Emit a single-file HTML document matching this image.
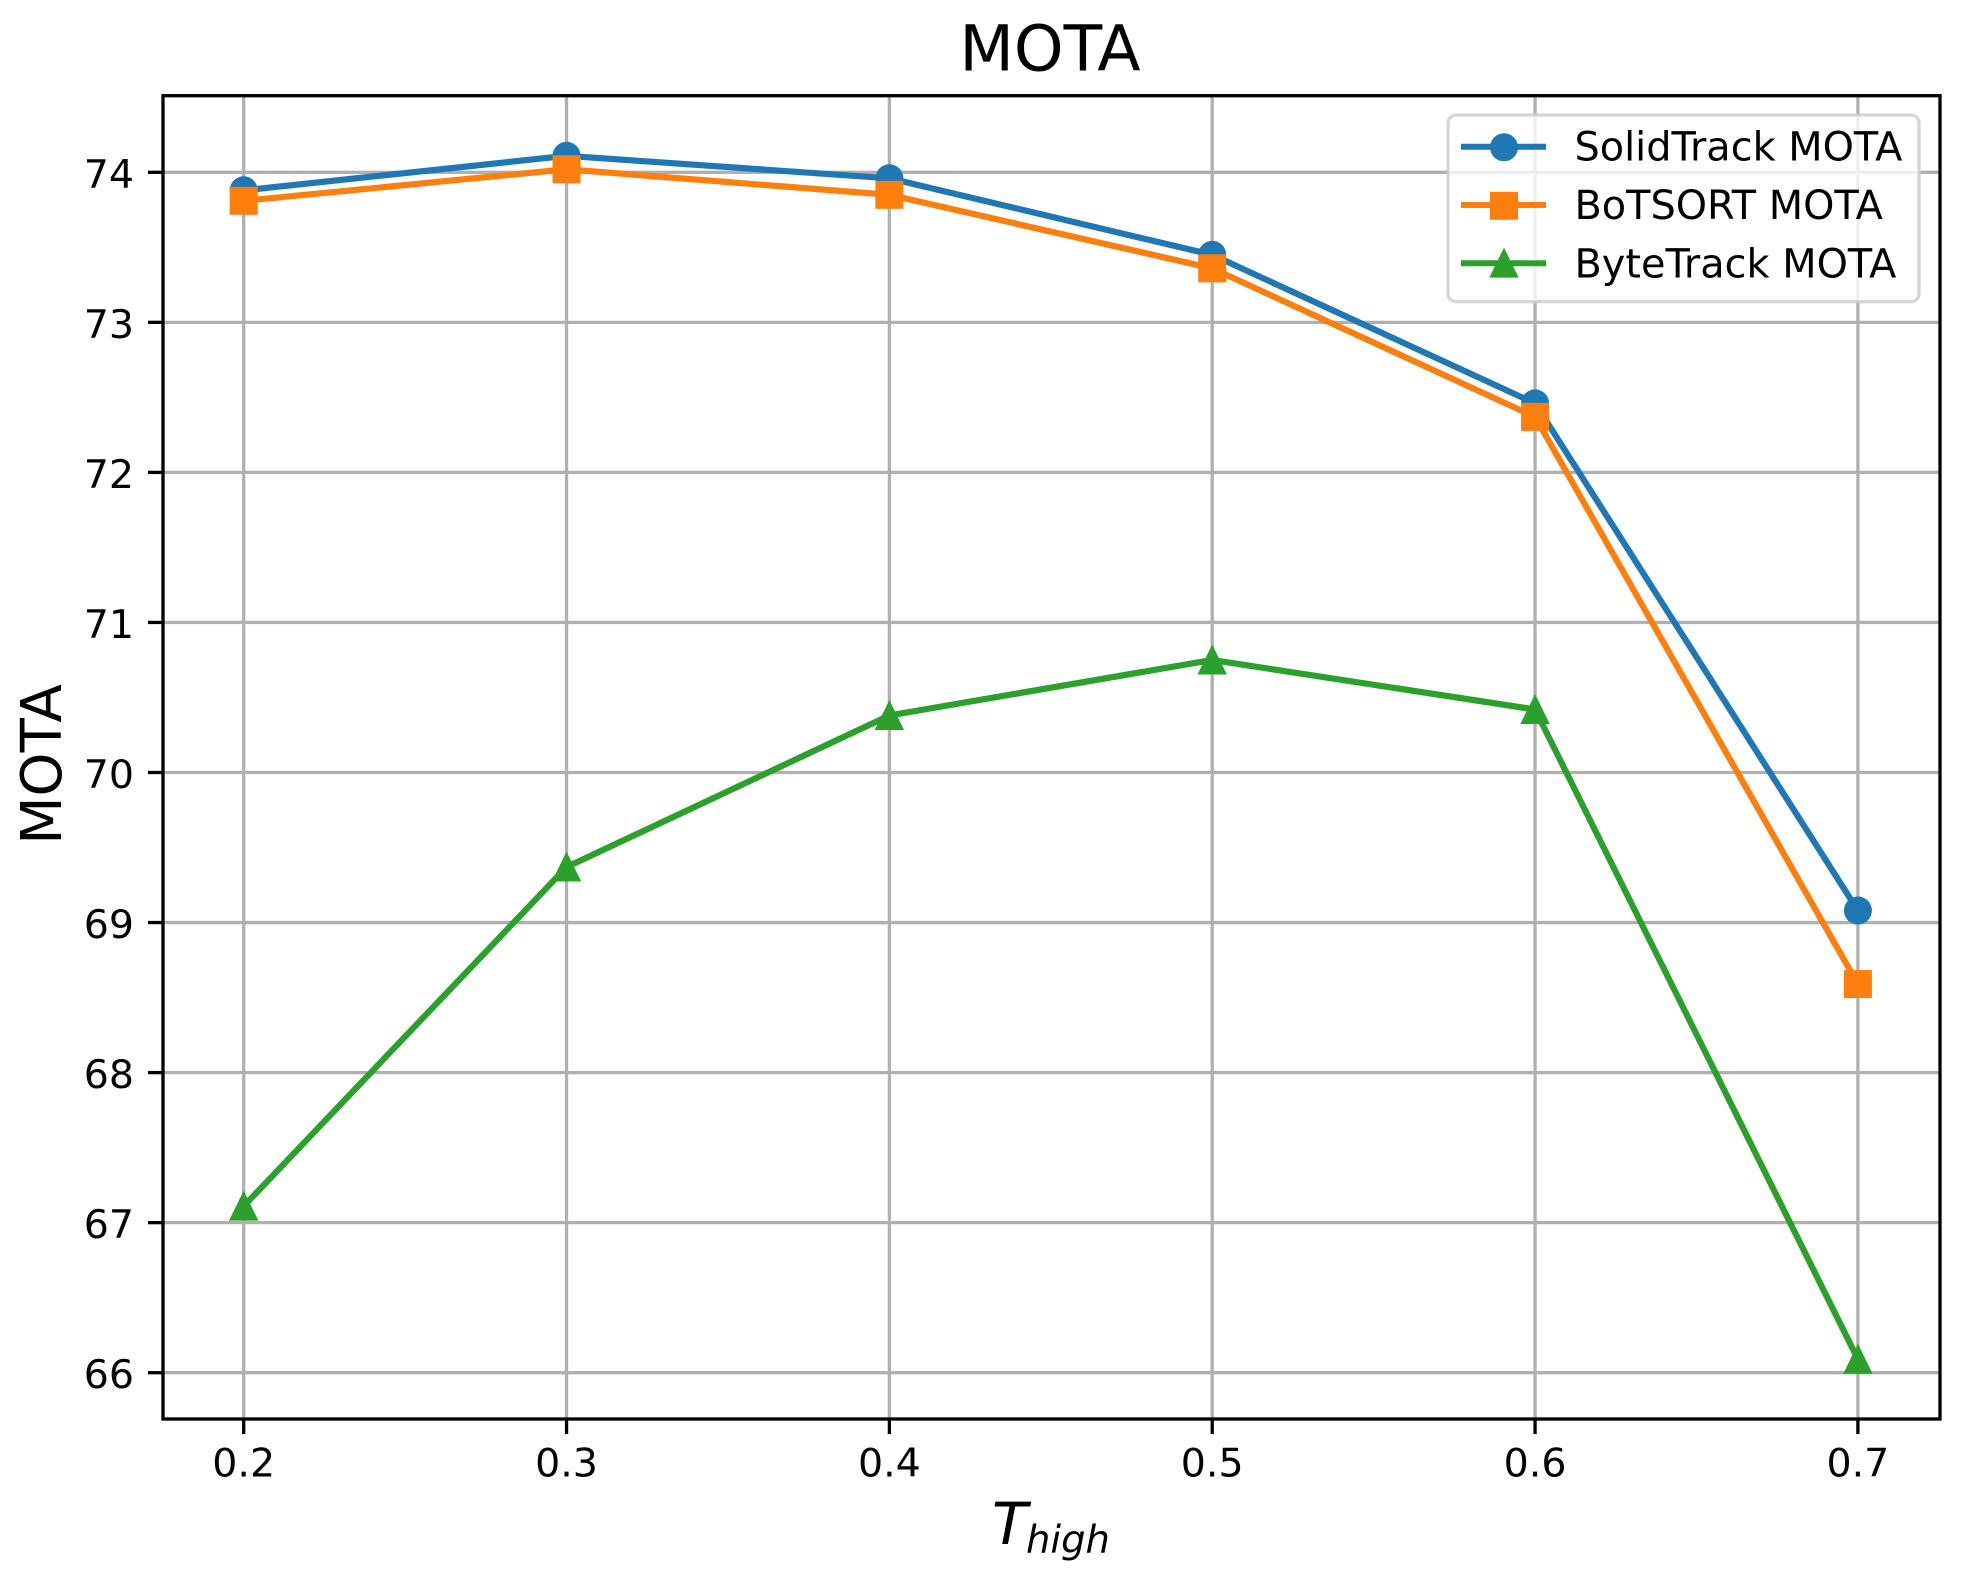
<!DOCTYPE html>
<html lang="en">
<head>
<meta charset="utf-8">
<title>MOTA</title>
<style>
html,body{margin:0;padding:0;background:#fff;}
#chart{display:block;}
text{font-family:"DejaVu Sans","Liberation Sans",sans-serif;fill:#000;}
</style>
</head>
<body>
<svg id="chart" xmlns="http://www.w3.org/2000/svg" width="1964" height="1577" viewBox="0 0 1964 1577"></svg>
<script>
const xCategories = [0.2, 0.3, 0.4, 0.5, 0.6, 0.7];
const xTickLabels = ['0.2', '0.3', '0.4', '0.5', '0.6', '0.7'];
const yTicks = [66, 67, 68, 69, 70, 71, 72, 73, 74];
const solidTrackValues = [73.88, 74.11, 73.96, 73.45, 72.46, 69.08];
const boTSORTValues = [73.81, 74.02, 73.85, 73.36, 72.37, 68.59];
const byteTrackValues = [67.11, 69.37, 70.38, 70.75, 70.42, 66.09];
const seriesNames = ['SolidTrack MOTA', 'BoTSORT MOTA', 'ByteTrack MOTA'];

const svg = document.getElementById('chart');
const NS = 'http://www.w3.org/2000/svg';
const plot = { left: 163, right: 1940, top: 95.7, bottom: 1419 };
function xScale(v) { return 243.7 + (v - 0.2) * 3228.4; }
function yScale(v) { return 172.3 + (74 - v) * 150.05; }

function make(tag, attrs, parent) {
  const el = document.createElementNS(NS, tag);
  for (const k in attrs) el.setAttribute(k, attrs[k]);
  (parent || svg).appendChild(el);
  return el;
}
function marker(kind, cx, cy, color, parent) {
  if (kind === 'circle') return make('circle', { cx: cx, cy: cy, r: 14, fill: color }, parent);
  if (kind === 'square') return make('rect', { x: cx - 14, y: cy - 14, width: 28, height: 28, fill: color }, parent);
  return make('polygon', { points: (cx) + ',' + (cy - 15.5) + ' ' + (cx + 14.7) + ',' + (cy + 14.5) + ' ' + (cx - 14.7) + ',' + (cy + 14.5), fill: color }, parent);
}

const bg = make('rect', { x: 163, y: 95.7, width: 1777, height: 1323.3, fill: '#fff' });



// Grid lines
xCategories.forEach(function (v, i) {
  const g = make('line', { x1: xScale(v), x2: xScale(v), y1: plot.top, y2: plot.bottom, stroke: '#b0b0b0', 'stroke-width': 3.3 });
  
  
});
yTicks.forEach(function (v) {
  const g = make('line', { x1: plot.left, x2: plot.right, y1: yScale(v), y2: yScale(v), stroke: '#b0b0b0', 'stroke-width': 3.3 });
  
  
});

// Series
const seriesData = [solidTrackValues, boTSORTValues, byteTrackValues];
const seriesColors = ['#1f77b4', '#ff7f0e', '#2ca02c'];
const seriesMarkers = ['circle', 'square', 'triangle'];
const seriesKeys = ['solidtrack', 'botsort', 'bytetrack'];
seriesData.forEach(function (vals, s) {
  const grp = make('g', {});
  
  
  const pts = vals.map(function (v, i) { return xScale(xCategories[i]) + ',' + yScale(v); }).join(' ');
  const line = make('polyline', { points: pts, fill: 'none', stroke: seriesColors[s], 'stroke-width': 6.2, 'stroke-linejoin': 'round' }, grp);
  
  
  vals.forEach(function (v, i) {
    const m = marker(seriesMarkers[s], xScale(xCategories[i]), yScale(v), seriesColors[s], grp);
    
    
  });
});

// Spines
const frame = make('rect', { x: plot.left, y: plot.top, width: plot.right - plot.left, height: plot.bottom - plot.top, fill: 'none', stroke: '#000', 'stroke-width': 3.3 });



// Ticks and tick labels
xCategories.forEach(function (v, i) {
  const t = make('line', { x1: xScale(v), x2: xScale(v), y1: plot.bottom, y2: plot.bottom + 15, stroke: '#000', 'stroke-width': 3.3 });
  
  
  const l = make('text', { x: xScale(v), y: 1476.7, 'text-anchor': 'middle', 'font-size': 39.5 });
  l.textContent = xTickLabels[i];
  
  
});
yTicks.forEach(function (v) {
  const t = make('line', { x1: plot.left - 15, x2: plot.left, y1: yScale(v), y2: yScale(v), stroke: '#000', 'stroke-width': 3.3 });
  
  
  const l = make('text', { x: 134, y: yScale(v) + 15.5, 'text-anchor': 'end', 'font-size': 39.5 });
  l.textContent = String(v);
  
  
});

// Title and axis labels
const title = make('text', { x: 1050, y: 70.7, 'text-anchor': 'middle', 'font-size': 63.2 });
title.textContent = 'MOTA';



const yLabel = make('text', { x: 0, y: 0, 'text-anchor': 'middle', 'font-size': 56, transform: 'translate(61 764.5) rotate(-90)' });
yLabel.textContent = 'MOTA';



const xLabel = make('text', { x: 992, y: 1544, 'font-size': 58, 'font-style': 'italic' });
xLabel.textContent = 'T';


const xLabelSub = make('text', { x: 1026, y: 1552.7, 'font-size': 38.5, 'font-style': 'italic' });
xLabelSub.textContent = 'high';



// Legend
const legend = make('g', {});


const legendBox = make('rect', { x: 1448, y: 115, width: 471, height: 186.7, rx: 8, ry: 8, fill: 'rgba(255,255,255,0.8)', stroke: 'rgba(204,204,204,0.8)', 'stroke-width': 3.3 }, legend);


const legendRows = [146.7, 205, 263.3];
const legendMarkerOffset = [0.6, 0.8, -0.2];
seriesNames.forEach(function (name, s) {
  const row = make('g', {}, legend);
  
  
  make('line', { x1: 1461, x2: 1546, y1: legendRows[s], y2: legendRows[s], stroke: seriesColors[s], 'stroke-width': 6 }, row);
  marker(seriesMarkers[s], 1504, legendRows[s] + legendMarkerOffset[s], seriesColors[s], row);
  const t = make('text', { x: 1574.5, y: legendRows[s] + 14, 'font-size': 39.8 }, row);
  t.textContent = name;
  
  
});
</script>
</body>
</html>
